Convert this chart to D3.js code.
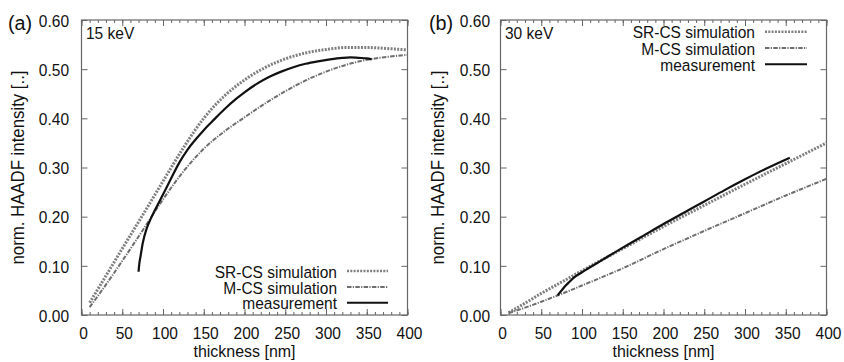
<!DOCTYPE html>
<html><head><meta charset="utf-8">
<script src="https://cdn.jsdelivr.net/npm/d3@7"></script>
<style>
body{margin:0;background:#fff}
svg{display:block}
text{font-family:"Liberation Sans",Arial,Helvetica,sans-serif;fill:#111}
</style>
</head><body>
<svg id="c" width="844" height="362"></svg>
<script>
// ---------- data ----------
const xTicks = [0, 50, 100, 150, 200, 250, 300, 350, 400];
const xMinorTicks = d3.range(0, 401, 10);
const yTicks = [0, 0.1, 0.2, 0.3, 0.4, 0.5, 0.6];
const yTickLabels = ["0.00", "0.10", "0.20", "0.30", "0.40", "0.50", "0.60"];
const seriesNames = ["SR-CS simulation", "M-CS simulation", "measurement"];
const panelLabels = ["(a)", "(b)"];
const energyLabels = ["15 keV", "30 keV"];
const xTitle = "thickness [nm]";
const yTitle = "norm. HAADF intensity [..]";

// 15 keV
const simThick15 = [10, 25, 50, 75, 100, 125, 150, 175, 200, 225, 250, 275, 300, 325, 350, 375, 400];
const srcs15 = [0.025, 0.066, 0.135, 0.203, 0.272, 0.340, 0.400, 0.445, 0.478, 0.503, 0.521, 0.533, 0.540, 0.544, 0.544, 0.542, 0.539];
const mcs15  = [0.016, 0.050, 0.110, 0.172, 0.235, 0.292, 0.338, 0.373, 0.402, 0.430, 0.455, 0.477, 0.495, 0.509, 0.519, 0.525, 0.529];
const measThick15 = [70, 71, 72.5, 75, 80, 85, 90, 100, 110, 120, 130, 140, 150, 160, 175, 190, 200, 215, 230, 245, 260, 275, 290, 305, 320, 330, 340, 350, 356];
const meas15 = [0.088, 0.105, 0.120, 0.145, 0.176, 0.196, 0.213, 0.245, 0.278, 0.310, 0.336, 0.357, 0.376, 0.393, 0.418, 0.440, 0.453, 0.470, 0.484, 0.495, 0.504, 0.511, 0.516, 0.520, 0.523, 0.524, 0.523, 0.522, 0.520];

// 30 keV
const simThick30 = [10, 25, 50, 75, 100, 150, 200, 250, 300, 350, 400];
const srcs30 = [0.005, 0.019, 0.044, 0.067, 0.090, 0.135, 0.180, 0.223, 0.266, 0.308, 0.350];
const mcs30  = [0.004, 0.012, 0.027, 0.043, 0.060, 0.095, 0.134, 0.171, 0.207, 0.243, 0.277];
const measThick30 = [70, 75, 80, 85, 90, 100, 125, 150, 175, 200, 225, 250, 275, 300, 325, 355];
const meas30 = [0.040, 0.050, 0.060, 0.068, 0.076, 0.087, 0.112, 0.137, 0.161, 0.185, 0.208, 0.231, 0.254, 0.276, 0.297, 0.320];

// ---------- drawing ----------
const svg = d3.select("#c");
const FS = 16.5, SX = 0.94;
const styles = [
  {stroke: "#7f7f7f", width: 3, dash: "2,1.3"},
  {stroke: "#6e6e6e", width: 2, dash: "4.5,1.3,1.2,1.3"},
  {stroke: "#111", width: 2.2, dash: null}
];

function txt(x, y, s, anchor, size, rot, sx) {
  return svg.append("text")
    .attr("transform", `translate(${x},${y})` + (rot ? " rotate(-90)" : "") + ` scale(${sx || SX},1)`)
    .attr("text-anchor", anchor || "start")
    .attr("font-size", size || FS)
    .text(s);
}

const panels = [
  {x0: 81.5, x1: 407.5, ylabX: 69, ytitleX: 24, tag: 8, energyX: 86,
   legX: 337, legLine: [347, 388], legY: [277.5, 293.5, 309.3],
   series: [[simThick15, srcs15], [simThick15, mcs15], [measThick15, meas15]]},
  {x0: 500.5, x1: 826.5, ylabX: 490, ytitleX: 444, tag: 429, energyX: 505,
   legX: 755, legLine: [765, 807], legY: [38.3, 54.6, 70.7],
   series: [[simThick30, srcs30], [simThick30, mcs30], [measThick30, meas30]]}
];

panels.forEach((p, i) => {
  const x = d3.scaleLinear().domain([0, 400]).range([p.x0, p.x1]);
  const y = d3.scaleLinear().domain([0, 0.6]).range([315, 20]);
  const axisColor = "#666";

  function styleAxis(g) {
    g.select(".domain").remove();
    g.selectAll(".tick line").attr("stroke", axisColor).attr("stroke-width", 1);
  }
  // minor x ticks bottom/top
  svg.append("g").attr("transform", "translate(0,315)")
    .call(d3.axisBottom(x).tickValues(xMinorTicks).tickSize(-3).tickFormat("")).call(styleAxis);
  svg.append("g").attr("transform", "translate(0,20)")
    .call(d3.axisTop(x).tickValues(xMinorTicks).tickSize(-3).tickFormat("")).call(styleAxis);
  // major x ticks
  const gx = svg.append("g").attr("transform", "translate(0,315)")
    .call(d3.axisBottom(x).tickValues(xTicks).tickSize(-6).tickFormat(d3.format("d"))).call(styleAxis);
  gx.selectAll(".tick text").attr("y", 0).attr("dy", 0)
    .attr("transform", `translate(1.5,23.5) scale(${SX},1)`)
    .attr("font-size", FS).attr("fill", "#111").attr("font-family", null);
  svg.append("g").attr("transform", "translate(0,20)")
    .call(d3.axisTop(x).tickValues(xTicks).tickSize(-6).tickFormat("")).call(styleAxis);
  // y ticks
  const gy = svg.append("g").attr("transform", `translate(${p.x0},0)`)
    .call(d3.axisLeft(y).tickValues(yTicks).tickSize(-6).tickFormat((d, k) => yTickLabels[k])).call(styleAxis);
  gy.selectAll(".tick text").attr("x", 0).attr("dy", 0)
    .attr("transform", `translate(${p.ylabX - p.x0},6.3) scale(${SX},1)`)
    .attr("text-anchor", "end")
    .attr("font-size", FS).attr("fill", "#111").attr("font-family", null);
  svg.append("g").attr("transform", `translate(${p.x1},0)`)
    .call(d3.axisRight(y).tickValues(yTicks).tickSize(-6).tickFormat("")).call(styleAxis);

  // frame
  svg.append("rect").attr("x", p.x0).attr("y", 20).attr("width", p.x1 - p.x0).attr("height", 295)
    .attr("fill", "none").attr("stroke", axisColor).attr("stroke-width", 1.2);

  // series
  const line = d3.line().x(d => x(d[0])).y(d => y(d[1])).curve(d3.curveMonotoneX);
  p.series.forEach((s, k) => {
    const st = styles[k];
    svg.append("path").datum(d3.zip(s[0], s[1]))
      .attr("d", line).attr("fill", "none")
      .attr("stroke", st.stroke).attr("stroke-width", st.width)
      .attr("stroke-dasharray", st.dash);
  });

  // legend
  seriesNames.forEach((name, k) => {
    const st = styles[k];
    txt(p.legX, p.legY[k], name, "end");
    svg.append("line").attr("x1", p.legLine[0]).attr("x2", p.legLine[1])
      .attr("y1", p.legY[k] - 6.5).attr("y2", p.legY[k] - 6.5)
      .attr("stroke", st.stroke).attr("stroke-width", k === 0 ? 2.4 : 2)
      .attr("stroke-dasharray", st.dash);
  });

  // labels
  txt(p.energyX, 39, energyLabels[i], "start");
  txt(p.tag, 30, panelLabels[i], "start", 21);
  txt((p.x0 + p.x1) / 2, 357, xTitle, "middle", 17, false, 0.94);
  txt(p.ytitleX, 167.5, yTitle, "middle", 17.5, true, 0.96);
});
</script>
</body></html>
